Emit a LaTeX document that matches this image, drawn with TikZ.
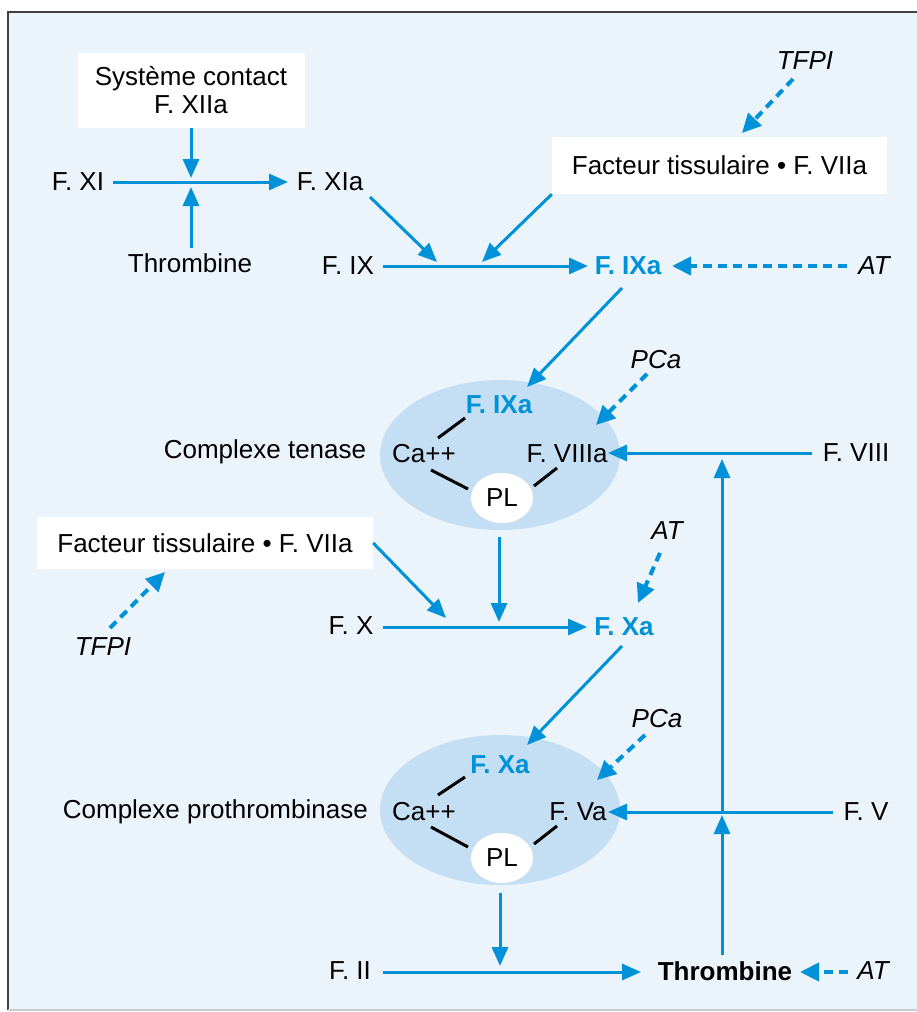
\documentclass[tikz,border=0pt]{standalone}
\usepackage{fontspec}
\setmainfont{Liberation Sans}
\usetikzlibrary{arrows.meta,shapes.geometric}
\definecolor{cblue}{RGB}{0,146,216}
\definecolor{bgblue}{RGB}{235,243,251}
\definecolor{ellblue}{RGB}{196,223,244}
\newcommand\dfont{\fontsize{26}{28}\selectfont}
\tikzset{
  arr/.style={draw=cblue, line width=3pt, -{Triangle[length=19pt,width=16pt]}},
  darr/.style={draw=cblue, line width=4pt, dash pattern=on 9pt off 6pt, -{Triangle[length=19pt,width=18pt]}},
  bond/.style={draw=black, line width=3pt},
  lbl/.style={inner sep=0pt, text=black, font=\dfont},
  blbl/.style={inner sep=0pt, text=cblue, font=\dfont\bfseries},
  ilbl/.style={inner sep=0pt, text=black, font=\dfont\itshape},
  wbox/.style={fill=white, inner sep=0pt, align=center, font=\dfont},
  cplx/.style={ellipse, fill=ellblue, inner sep=0pt, minimum width=240pt, minimum height=150pt},
  plnode/.style={ellipse, fill=white, inner sep=0pt, minimum width=62pt, minimum height=50pt, font=\dfont},
}
\begin{document}
\begin{tikzpicture}[x=1pt,y=-1pt]
\useasboundingbox (0,0) rectangle (917,1012);
\fill[white] (0,0) rectangle (917,1012);
\fill[bgblue] (8,12) rectangle (917,1010);
\draw[black!75, line width=1.5pt] (8,1010) -- (8,12) -- (917,12);
\draw[black!20, line width=1.2pt] (8,1010) -- (917,1010);

% ---- top section
\node[wbox, minimum width=227pt, minimum height=75pt] (sc) at (191,90) {Système contact\\F. XIIa};
\node[lbl] (fxi) at (78,182) {F. XI};
\node[lbl] (fxia) at (330,182) {F. XIa};
\node[lbl] (thr1) at (190,263) {Thrombine};
\coordinate (j1a) at (191,178);
\coordinate (j1b) at (191,187);
\coordinate (thr1top) at (191,248);
\coordinate (fxistart) at (113,182);
\coordinate (fxiaend) at (288,182);
\draw[arr] (fxistart) -- (fxiaend);
\draw[arr] (sc.south) -- (j1a);
\draw[arr] (thr1top) -- (j1b);

\node[wbox, minimum width=335pt, minimum height=57pt] (tf1) at (719.5,165.5) {Facteur tissulaire • F. VIIa};
\node[ilbl] (tfpi1) at (805,61) {TFPI};
\coordinate (tfpi1s) at (793,79);
\coordinate (tf1n) at (742,133);
\draw[darr] (tfpi1s) -- (tf1n);

\node[lbl] (fix) at (348,266) {F. IX};
\node[blbl] (fixa) at (628,266) {F. IXa};
\node[ilbl] (at1) at (874,266) {AT};
\coordinate (fixs) at (383,266);
\coordinate (fixe) at (588,266);
\coordinate (at1s) at (847,266);
\coordinate (at1e) at (672,266);
\draw[arr] (fixs) -- (fixe);
\draw[darr] (at1s) -- (at1e);
\coordinate (fxias) at (370,197);
\coordinate (fxiae) at (437,262);
\draw[arr] (fxias) -- (fxiae);
\coordinate (tf1e) at (482,262);
\draw[arr] (tf1.south west) -- (tf1e);

% ---- complexe tenase
\node[cplx] (ten) at (500,455) {};
\node[blbl] (fixa2) at (499,405) {F. IXa};
\node[lbl] (ca1) at (424,454) {Ca++};
\node[lbl] (f8a) at (567,454) {F. VIIIa};
\node[plnode] (pl1) at (502,498) {PL};
\draw[bond] (438,438) -- (465,418);
\draw[bond] (431,470) -- (468,489);
\draw[bond] (557,468) -- (534,486);
\node[lbl] (ct) at (265,452) {Complexe tenase};
\coordinate (fixas) at (622,288);
\coordinate (tenin) at (527,387);
\draw[arr] (fixas) -- (tenin);
\node[ilbl] (pca1) at (656,360) {PCa};
\coordinate (pca1s) at (647,374);
\coordinate (pca1e) at (596,425);
\draw[darr] (pca1s) -- (pca1e);
\node[lbl] (f8) at (856,453) {F. VIII};
\coordinate (f8s) at (812,453);
\coordinate (f8e) at (608,453);
\draw[arr] (f8s) -- (f8e);

% ---- middle
\node[wbox, minimum width=336pt, minimum height=52pt] (tf2) at (205,543) {Facteur tissulaire • F. VIIa};
\node[ilbl] (tfpi2) at (103,647) {TFPI};
\coordinate (tfpi2s) at (110,628);
\coordinate (tf2s) at (165,572);
\draw[darr] (tfpi2s) -- (tf2s);
\coordinate (tf2e) at (446,618);
\draw[arr] (tf2.east) -- (tf2e);
\node[lbl] (fx) at (351,626) {F. X};
\node[blbl] (fxa) at (624,627) {F. Xa};
\coordinate (fxs) at (383,627);
\coordinate (fxe) at (587,627);
\draw[arr] (fxs) -- (fxe);
\coordinate (tens) at (499,537);
\coordinate (tene) at (499,622);
\draw[arr] (tens) -- (tene);
\node[ilbl] (at2) at (667,531) {AT};
\coordinate (at2s) at (660,553);
\coordinate (at2e) at (638,603);
\draw[darr] (at2s) -- (at2e);

% ---- complexe prothrombinase
\node[cplx] (pro) at (500,810) {};
\coordinate (fxas) at (622,646);
\coordinate (proin) at (527,745);
\draw[arr] (fxas) -- (proin);
\node[blbl] (fxa2) at (500,765) {F. Xa};
\node[lbl] (ca2) at (424,812) {Ca++};
\node[lbl] (f5a) at (578,812) {F. Va};
\node[plnode] (pl2) at (502,858) {PL};
\draw[bond] (438,795) -- (465,777);
\draw[bond] (431,827) -- (468,847);
\draw[bond] (557,826) -- (534,844);
\node[lbl, anchor=east] (cp) at (368,812) {Complexe prothrombinase};
\node[ilbl] (pca2) at (657,719) {PCa};
\coordinate (pca2s) at (645,735);
\coordinate (pca2e) at (597,780);
\draw[darr] (pca2s) -- (pca2e);
\node[lbl] (f5) at (866,812) {F. V};
\coordinate (f5s) at (833,812);
\coordinate (f5e) at (608,812);
\draw[arr] (f5s) -- (f5e);

% ---- bottom
\coordinate (pros) at (500,893);
\coordinate (proe) at (500,966);
\draw[arr] (pros) -- (proe);
\node[lbl] (f2) at (350,971) {F. II};
\node[lbl, font=\dfont\bfseries] (thr2) at (725,971) {Thrombine};
\node[ilbl] (at3) at (873,971) {AT};
\coordinate (f2s) at (383,972);
\coordinate (f2e) at (641,972);
\draw[arr] (f2s) -- (f2e);
\coordinate (at3s) at (848,972);
\coordinate (at3e) at (800,972);
\draw[darr] (at3s) -- (at3e);
\coordinate (thr2top) at (722,955);
\coordinate (vjf5) at (722,815);
\coordinate (vjf5b) at (722,812);
\coordinate (vjf8) at (722,459);
\draw[arr] (thr2top) -- (vjf5);
\draw[arr] (vjf5b) -- (vjf8);
\end{tikzpicture}
\end{document}
